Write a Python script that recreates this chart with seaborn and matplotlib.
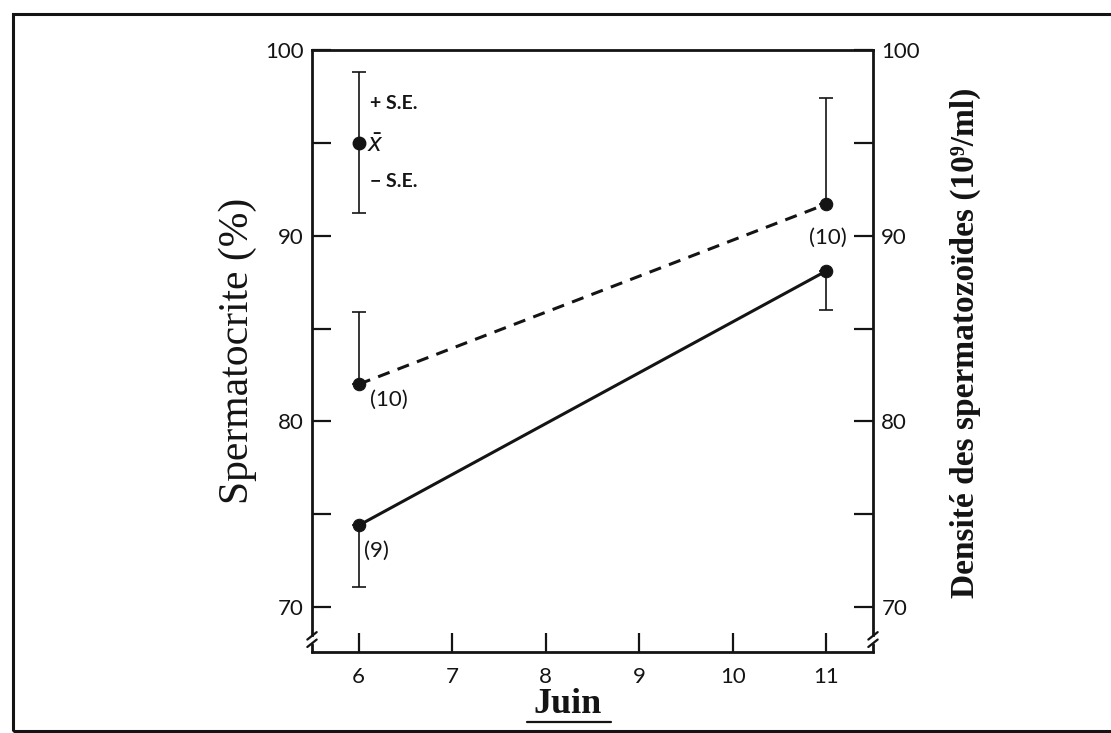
import matplotlib.pyplot as plt
import matplotlib.patches as patches
from matplotlib.lines import Line2D
import numpy as np
import pandas as pd
import seaborn as sns

# -----------------------------------------
# Data
# -----------------------------------------
days = [6, 11]

# solid line: spermatocrite (%)
sperm_mean = [74.4, 88.1]
sperm_se = [3.3, 2.1]
sperm_n = ["(9)", "(10)"]

# dashed line: density of spermatozoa (10^9/ml)
dens_mean = [82.0, 91.7]
dens_se = [3.9, 5.7]
dens_n = ["(10)", ""]

# key in the upper left corner
key_x = 6
key_mean = 95.0
key_se = 3.8

x_ticks = [6, 7, 8, 9, 10, 11]
y_ticks = [70, 75, 80, 85, 90, 95, 100]
y_labels = ["70", "", "80", "", "90", "", "100"]

df = pd.DataFrame({
    "day": days,
    "sperm": sperm_mean,
    "dens": dens_mean,
})

# -----------------------------------------
# Style
# -----------------------------------------
sns.set_theme(style="ticks")
plt.rcParams["font.family"] = ["Lato", "DejaVu Sans"]

ink = "#141414"
serif = ["Liberation Serif", "DejaVu Serif"]

fig = plt.figure(figsize=(11.11, 7.33), dpi=100)
fig.patch.set_facecolor("white")
ax = fig.add_axes([312 / 1111, 1 - 652 / 733, 561 / 1111, 602 / 733])

# -----------------------------------------
# Lines and points
# -----------------------------------------
sns.lineplot(data=df, x="day", y="sperm", ax=ax, color=ink, linewidth=2.2,
             marker="o", markersize=9, markeredgecolor=ink, zorder=3)
sns.lineplot(data=df, x="day", y="dens", ax=ax, color=ink, linewidth=2.2,
             linestyle=(0, (4, 2.8)), marker="o", markersize=9,
             markeredgecolor=ink, zorder=3)

# one-sided error bars (solid: down, dashed: up)
zeros = np.zeros(len(days))
ax.errorbar(days, sperm_mean, yerr=[sperm_se, zeros], fmt="none",
            ecolor=ink, elinewidth=1.2, capsize=5, capthick=1.2, zorder=2)
ax.errorbar(days, dens_mean, yerr=[zeros, dens_se], fmt="none",
            ecolor=ink, elinewidth=1.2, capsize=5, capthick=1.2, zorder=2)

# key
ax.errorbar([key_x], [key_mean], yerr=key_se, fmt="o", color=ink, ms=9,
            elinewidth=1.2, capsize=5, capthick=1.2)
ax.text(key_x + 0.12, key_mean + 2.1, "+ S.E.", fontsize=14, fontweight="bold",
        ha="left", va="center", color=ink)
ax.text(key_x + 0.09, key_mean - 0.1, r"$\bar{x}$", fontsize=17,
        ha="left", va="center", color=ink)
ax.text(key_x + 0.12, key_mean - 2.1, "\u2212 S.E.", fontsize=14, fontweight="bold",
        ha="left", va="center", color=ink)

# sample sizes
ax.annotate(dens_n[0], (days[0], dens_mean[0]), xytext=(8, -11),
            textcoords="offset points", fontsize=16, ha="left", va="center", color=ink)
ax.annotate(sperm_n[0], (days[0], sperm_mean[0]), xytext=(4, -18),
            textcoords="offset points", fontsize=16, ha="left", va="center", color=ink)
ax.annotate(sperm_n[1], (days[1], sperm_mean[1]), xytext=(1, 24),
            textcoords="offset points", fontsize=16, ha="center", va="center", color=ink)

# -----------------------------------------
# Axes
# -----------------------------------------
y_low = 67.58
ax.set_xlim(5.5, 11.5)
ax.set_ylim(y_low, 100)
ax.set_xticks(x_ticks)
ax.set_yticks(y_ticks)
ax.set_yticklabels(y_labels)
ax.tick_params(axis="x", direction="in", length=14, width=1.6, color=ink,
               labelsize=16, pad=11, labelcolor=ink)
ax.tick_params(axis="y", direction="in", length=14, width=1.6, color=ink,
               labelsize=16, pad=6, labelcolor=ink,
               left=True, right=True, labelleft=True, labelright=True)

for side in ["left", "right", "top", "bottom"]:
    ax.spines[side].set_visible(True)
    ax.spines[side].set_color(ink)
    ax.spines[side].set_linewidth(2.0)

# axis breaks near the bottom of both vertical spines
brk = 68.25
ax.spines["left"].set_bounds(brk + 0.25, 100)
ax.spines["right"].set_bounds(brk + 0.25, 100)
for xs in [5.5, 11.5]:
    ax.plot([xs, xs], [y_low, brk - 0.25], color=ink, lw=2.0, clip_on=False)
    for dy in [-0.2, 0.2]:
        ax.plot([xs - 0.05, xs + 0.05], [brk + dy - 0.2, brk + dy + 0.2],
                color=ink, lw=1.6, clip_on=False)

ax.set_xlabel("Juin", family=serif, fontsize=26, fontweight="bold", color=ink)
ax.xaxis.set_label_coords((568 - 312) / 561, (652 - 688) / 602)
ax.set_ylabel("Spermatocrite (%)", family=serif, fontsize=30, color=ink, labelpad=6)

fig.text(965 / 1111, 1 - 343 / 733, "Densité des spermatozoïdes (10\u2079/ml)",
         family=serif, fontsize=24, fontweight="bold", rotation=90,
         ha="center", va="center", color=ink)

# underline under "Juin"
fig.canvas.draw()
bb = ax.xaxis.label.get_window_extent().transformed(fig.transFigure.inverted())
fig.add_artist(Line2D([bb.x0 - 0.006, bb.x1 + 0.008], [1 - 722 / 733, 1 - 722 / 733],
                      transform=fig.transFigure, color=ink, lw=1.6))

# frame of the scanned page
fig.add_artist(patches.Rectangle((13 / 1111, 1 - 731 / 733), 1.02, (731 - 14) / 733,
                                 transform=fig.transFigure, fill=False,
                                 edgecolor=ink, linewidth=2.2))

fig.savefig("out.png", dpi=100, facecolor="white")
